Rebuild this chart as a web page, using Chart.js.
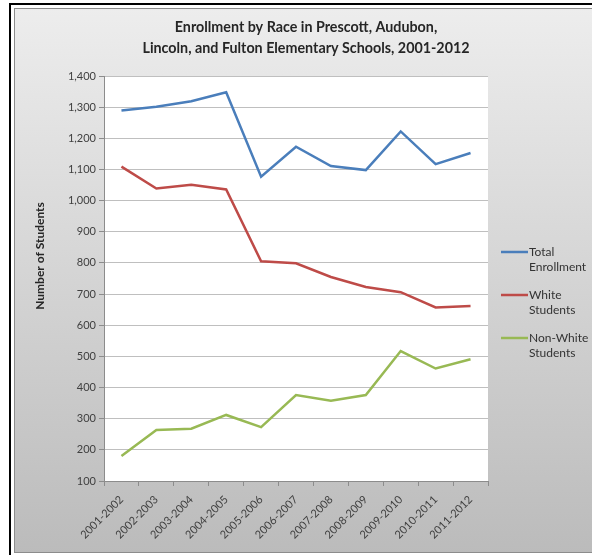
<!DOCTYPE html>
<html>
<head>
<meta charset="utf-8">
<script src="https://cdn.jsdelivr.net/npm/chart.js@4.4.1/dist/chart.umd.min.js"></script>
<style>
  html, body { margin: 0; padding: 0; background: #fff; }
  #chart { display: block; }
</style>
</head>
<body>
<canvas id="chart" width="592" height="555"></canvas>
<script>
// data
var categories = ['2001-2002','2002-2003','2003-2004','2004-2005','2005-2006','2006-2007',
                  '2007-2008','2008-2009','2009-2010','2010-2011','2011-2012'];
var totalEnrollment  = [1289, 1301, 1319, 1348, 1077, 1173, 1111, 1098, 1222, 1117, 1153];
var whiteStudents    = [1109, 1039, 1051, 1036, 805, 799, 755, 723, 706, 657, 662];
var nonWhiteStudents = [180, 264, 268, 312, 273, 376, 358, 376, 517, 461, 491];
var seriesLabels = ['Total\nEnrollment', 'White\nStudents', 'Non-White\nStudents'];
var titleLines = ['Enrollment by Race in Prescott, Audubon,',
                  'Lincoln, and Fulton Elementary Schools, 2001-2012'];
var yAxisTitle = 'Number of Students';
var yTicks = {min: 100, max: 1400, step: 100};

var FONT = 'Lato, "Open Sans", sans-serif';

// frame, gradient, plot area, titles and legend
var excelLook = {
  id: 'excelLook',
  beforeDraw: function(chart) {
    var c = chart.ctx, a = chart.chartArea;
    c.save();
    c.fillStyle = '#fff';
    c.fillRect(0, 0, chart.width, chart.height);
    // outer black frame
    c.fillStyle = '#000';
    c.fillRect(9, 3, chart.width - 9, 2);
    c.fillRect(9, 3, 2, chart.height - 3);
    // chart background
    var g = c.createLinearGradient(0, 8, 0, chart.height);
    g.addColorStop(0, '#ededed');
    g.addColorStop(1, '#bbbbbb');
    c.fillStyle = g;
    c.fillRect(14, 8, chart.width - 14, chart.height - 10);
    c.strokeStyle = '#8c8c8c';
    c.lineWidth = 1;
    c.strokeRect(14.5, 8.5, chart.width, chart.height - 11);
    // plot area
    c.fillStyle = '#fff';
    c.fillRect(a.left, a.top, a.right - a.left, a.bottom - a.top);
    // title
    c.fillStyle = '#262626';
    c.font = 'bold 14.3px ' + FONT;
    c.textAlign = 'center';
    c.textBaseline = 'middle';
    titleLines.forEach(function(t, i) {
      c.fillText(t, 306, 27 + i * 21);
    });
    // y axis title
    c.translate(40, 256);
    c.rotate(-Math.PI / 2);
    c.font = 'bold 12px ' + FONT;
    c.fillText(yAxisTitle, 0, 0);
    c.restore();
  },
  afterDraw: function(chart) {
    var c = chart.ctx;
    c.save();
    c.font = '12px ' + FONT;
    c.textAlign = 'left';
    c.textBaseline = 'middle';
    chart.data.datasets.forEach(function(ds, i) {
      var y = 252 + i * 43;
      c.strokeStyle = ds.borderColor;
      c.lineWidth = 2.5;
      c.beginPath();
      c.moveTo(501, y);
      c.lineTo(528, y);
      c.stroke();
      c.fillStyle = '#333';
      ds.label.split('\n').forEach(function(t, j) {
        c.fillText(t, 529, y + j * 15);
      });
    });
    c.restore();
  }
};

new Chart(document.getElementById('chart'), {
  type: 'line',
  data: {
    labels: categories,
    datasets: [
      {label: seriesLabels[0], data: totalEnrollment, borderColor: '#4a7ebb'},
      {label: seriesLabels[1], data: whiteStudents, borderColor: '#be4b48'},
      {label: seriesLabels[2], data: nonWhiteStudents, borderColor: '#98b954'}
    ]
  },
  options: {
    responsive: false,
    animation: false,
    devicePixelRatio: 1,
    layout: {padding: {left: 14, right: 104, top: 76, bottom: 0}},
    elements: {
      line: {borderWidth: 2.5, tension: 0, fill: false},
      point: {radius: 0, hoverRadius: 0}
    },
    plugins: {
      legend: {display: false},
      title: {display: false},
      tooltip: {enabled: false}
    },
    scales: {
      x: {
        offset: true,
        afterFit: function(s) { s.height = 74; },
        grid: {offset: true, drawOnChartArea: false, drawTicks: true, tickLength: 5, color: '#8c8c8c'},
        border: {color: '#8c8c8c'},
        ticks: {
          autoSkip: false, maxRotation: 45, minRotation: 45,
          color: '#404040', font: {family: FONT, size: 11}, padding: 7
        }
      },
      y: {
        min: yTicks.min, max: yTicks.max,
        afterFit: function(s) { s.width = 90; },
        grid: {color: '#bfbfbf', tickLength: 5, tickColor: '#8c8c8c'},
        border: {color: '#8c8c8c'},
        ticks: {stepSize: yTicks.step, color: '#404040', font: {family: FONT, size: 11}, padding: 3}
      }
    }
  },
  plugins: [excelLook]
});
</script>
</body>
</html>
